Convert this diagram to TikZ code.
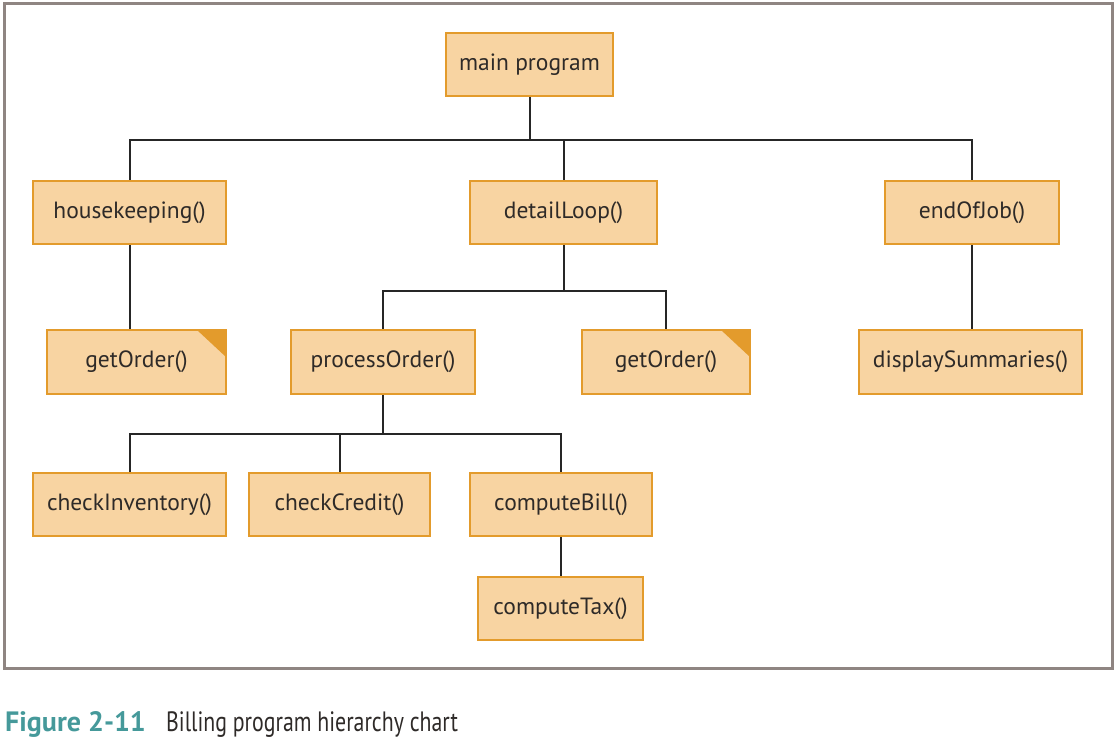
\documentclass[tikz,border=0pt]{standalone}
\usepackage{fontspec}
\setmainfont{PT Sans}
\newfontfamily\condfont[FakeStretch=0.78]{PT Sans}
\definecolor{boxfill}{HTML}{F8D4A2}
\definecolor{boxline}{HTML}{E39B2C}
\definecolor{frame}{HTML}{8F8582}
\definecolor{txt}{HTML}{2E2A28}
\definecolor{teal}{HTML}{45999A}
\begin{document}
\begin{tikzpicture}[x=1pt,y=-1pt,
  box/.style={draw=boxline, line width=2pt, fill=boxfill, text=txt, font=\fontsize{23.5}{27}\selectfont, inner sep=0pt},
  conn/.style={draw=black!85, line width=2pt},
  corner/.style={fill=boxline}]
\useasboundingbox (0,0) rectangle (1117,741);
\draw[frame, line width=3pt] (4,4) rectangle (1112,668);

\node[box, minimum width=167pt, minimum height=63pt] (main) at (529.5,64.5) {main program};
\node[box, minimum width=193pt, minimum height=63pt] (hk) at (129.5,212.5) {housekeeping()};
\node[box, minimum width=187pt, minimum height=63pt] (dl) at (563.5,212.5) {detailLoop()};
\node[box, minimum width=174pt, minimum height=63pt] (eoj) at (972,212.5) {endOfJob()};
\node[box, minimum width=179pt, minimum height=64pt] (go1) at (136.5,362) {getOrder()};
\node[box, minimum width=184pt, minimum height=64pt] (po) at (383,362) {processOrder()};
\node[box, minimum width=168pt, minimum height=64pt] (go2) at (666,362) {getOrder()};
\node[box, minimum width=223pt, minimum height=64pt] (ds) at (970.5,362) {displaySummaries()};
\node[box, minimum width=193pt, minimum height=63pt] (ci) at (129.5,504.5) {checkInventory()};
\node[box, minimum width=181pt, minimum height=63pt] (cc) at (339.5,504.5) {checkCredit()};
\node[box, minimum width=182pt, minimum height=63pt] (cb) at (561,504.5) {computeBill()};
\node[box, minimum width=165pt, minimum height=63pt] (ct) at (560.5,608.5) {computeTax()};

\fill[corner] (go1.north east) ++(-1,1) -- ++(-29,0) -- ++(29,27) -- cycle;
\fill[corner] (go2.north east) ++(-1,1) -- ++(-29,0) -- ++(29,27) -- cycle;

\coordinate (b1) at (529.5,140);
\coordinate (b2) at (563.5,291);
\coordinate (b3) at (383,434);

\draw[conn] (main.south) -- (b1) -| (hk.north);
\draw[conn] (b1) -| (dl.north);
\draw[conn] (b1) -| (eoj.north);
\draw[conn] (hk.south) -- (hk.south |- go1.north);
\draw[conn] (dl.south) -- (b2) -| (po.north);
\draw[conn] (b2) -| (go2.north);
\draw[conn] (eoj.south) -- (eoj.south |- ds.north);
\draw[conn] (po.south) -- (b3) -| (ci.north);
\draw[conn] (b3) -| (cc.north);
\draw[conn] (b3) -| (cb.north);
\draw[conn] (cb.south) -- (cb.south |- ct.north);

\node[anchor=base west, inner sep=0pt, text=teal, font=\fontsize{28}{32}\selectfont\bfseries] (fig) at (5,731) {Figure 2-11};
\node[anchor=base west, inner sep=0pt, text=txt, font=\condfont\fontsize{28}{32}\selectfont] (cap) at (166,731) {Billing program hierarchy chart};
\end{tikzpicture}
\end{document}
